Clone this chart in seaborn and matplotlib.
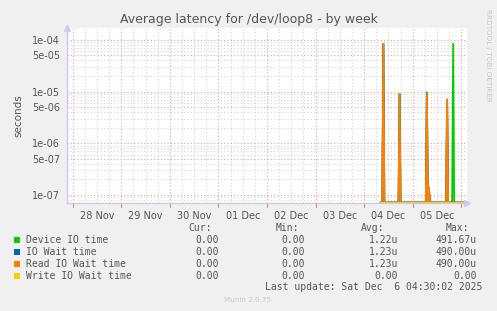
import numpy as np
import pandas as pd
import matplotlib
matplotlib.use("Agg")
import matplotlib.pyplot as plt
import matplotlib.dates as mdates
from matplotlib.patches import Rectangle
from matplotlib.ticker import FixedLocator, NullFormatter
import seaborn as sns

# ---------------- data ----------------
series_names = ["Device IO time", "IO Wait time", "Read IO Wait time", "Write IO Wait time"]
series_colors = ["#00cc00", "#0066b3", "#ff8000", "#ffcc00"]

view_start = "2025-11-27 21:10"
view_end = "2025-12-06 02:50"
data_start = "2025-12-04 08:00"
data_end = "2025-12-06 02:50"

spike_times = ["2025-12-04 09:30", "2025-12-04 17:30", "2025-12-05 07:00",
               "2025-12-05 08:00", "2025-12-05 17:00", "2025-12-05 20:00"]
device_io = [8.4e-05, 9.0e-06, 9.7e-06, 1.4e-07, 7.0e-06, 8.4e-05]
io_wait = [8.4e-05, 9.0e-06, 8.4e-06, 1.4e-07, 7.0e-06, 0.0]
read_wait = [8.4e-05, 9.0e-06, 8.4e-06, 1.4e-07, 7.0e-06, 0.0]
write_wait = [0.0, 0.0, 0.0, 0.0, 0.0, 0.0]

day_labels = ["28 Nov", "29 Nov", "30 Nov", "01 Dec", "02 Dec", "03 Dec", "04 Dec", "05 Dec"]
y_ticks = [1e-07, 5e-07, 1e-06, 5e-06, 1e-05, 5e-05, 1e-04]
y_tick_labels = ["1e-07", "5e-07", "1e-06", "5e-06", "1e-05", "5e-05", "1e-04"]

legend_cur = ["0.00", "0.00", "0.00", "0.00"]
legend_min = ["0.00", "0.00", "0.00", "0.00"]
legend_avg = ["1.22u", "1.23u", "1.23u", "0.00"]
legend_max = ["491.67u", "490.00u", "490.00u", "0.00"]

# ---------------- build table ----------------
grid_times = pd.date_range(data_start, data_end, freq="30min")
rows = []
for name, vals in zip(series_names, [device_io, io_wait, read_wait, write_wait]):
    s = pd.Series(0.0, index=grid_times)
    for t, v in zip(pd.to_datetime(spike_times), vals):
        s.loc[t] = v
    s = s.sort_index()
    for t, v in s.items():
        rows.append({"time": mdates.date2num(t), "value": v, "series": name})
df = pd.DataFrame(rows)

# ---------------- figure ----------------
sns.set_style("white")
plt.rcParams["font.family"] = ["DejaVu Sans"]
W, H = 497, 311
fig = plt.figure(figsize=(W / 100, H / 100), dpi=100, facecolor="#f0f0f0")
ax = fig.add_axes([67 / W, 1 - 203 / H, 400 / W, 175 / H])
ax.set_facecolor("white")

sns.lineplot(data=df, x="time", y="value", hue="series", hue_order=series_names,
             palette=series_colors, estimator=None, sort=False, lw=1.3,
             legend=False, ax=ax)
ylo, yhi = 7.0e-08, 1.7e-04
ax.set_yscale("log", nonpositive="clip")
ax.set_ylim(ylo, yhi)
# like rrdtool, values below the axis floor are drawn on the floor
for ln in ax.get_lines():
    ln.set_ydata(np.maximum(np.asarray(ln.get_ydata(), dtype=float), ylo * 1.02))
x0 = mdates.date2num(pd.Timestamp(view_start))
x1 = mdates.date2num(pd.Timestamp(view_end))
ax.set_xlim(x0, x1)

# y ticks / grid
ax.yaxis.set_major_locator(FixedLocator(y_ticks))
ax.set_yticklabels(y_tick_labels)
minor_y = [m * 10.0 ** e for e in range(-8, -3) for m in (2, 3, 4, 6, 7, 8, 9)]
ax.yaxis.set_minor_locator(FixedLocator(minor_y))
ax.yaxis.set_minor_formatter(NullFormatter())
ax.grid(True, which="major", axis="y", color="#e6a0a0", ls=(0, (1, 2)), lw=0.8)
ax.grid(True, which="minor", axis="y", color="#d4d4d4", ls=(0, (1, 2)), lw=0.8)

# x ticks: labels at noon, grid every 6 h, red lines at midnight
days = pd.date_range("2025-11-28", periods=len(day_labels), freq="D")
noons = [mdates.date2num(d + pd.Timedelta(hours=12)) for d in days]
ax.xaxis.set_major_locator(FixedLocator(noons))
ax.set_xticklabels(day_labels)
six_h = [mdates.date2num(t) for t in pd.date_range("2025-11-27 00:00", "2025-12-07 00:00", freq="6h")
         if t.hour in (6, 18)]
ax.xaxis.set_minor_locator(FixedLocator(six_h))
ax.xaxis.set_minor_formatter(NullFormatter())
ax.grid(True, which="major", axis="x", color="#d4d4d4", ls=(0, (1, 2)), lw=0.8)
ax.grid(True, which="minor", axis="x", color="#d4d4d4", ls=(0, (1, 2)), lw=0.8)
midnights = pd.date_range("2025-11-28", "2025-12-06", freq="D")
for d in midnights:
    xm = mdates.date2num(d)
    ax.axvline(xm, color="#e6a0a0", ls=(0, (1, 2)), lw=0.8, zorder=0.5)
    ax.plot([xm, xm], [0, -0.025], transform=ax.get_xaxis_transform(), color="#e08080",
            lw=0.8, clip_on=False)
ax.set_axisbelow(True)

ax.tick_params(axis="both", which="both", length=0, labelsize=7, labelcolor="#555555")
ax.tick_params(axis="x", pad=6)
ax.tick_params(axis="y", pad=5)
ax.set_xlabel("")
ax.set_ylabel("seconds", fontsize=7.5, color="#555555", labelpad=6)

for sp in ["top", "right"]:
    ax.spines[sp].set_visible(False)
for sp in ["left", "bottom"]:
    ax.spines[sp].set_color("#c8ccee")
    ax.spines[sp].set_linewidth(1)
# axis arrows
ax.plot([1.0], [0], marker=">", color="#c8ccee", ms=4, transform=ax.transAxes, clip_on=False)
ax.plot([0], [1.0], marker="^", color="#c8ccee", ms=4, transform=ax.transAxes, clip_on=False)

# title
fig.text(249 / W, 1 - 19 / H, "Average latency for /dev/loop8 - by week", ha="center", va="center",
         fontsize=9, color="#555555")
fig.text(488 / W, 1 - 55 / H, "RRDTOOL / TOBI OETIKER", rotation=270, ha="center", va="center",
         fontsize=5.2, color="#c8c8c8")

# legend
mono = "DejaVu Sans Mono"
fs = 7
tc = "#555555"
fig.text(212 / W, 1 - 228 / H, "Cur:", ha="right", va="center", family=mono, fontsize=fs, color=tc)
fig.text(299 / W, 1 - 228 / H, "Min:", ha="right", va="center", family=mono, fontsize=fs, color=tc)
fig.text(384 / W, 1 - 228 / H, "Avg:", ha="right", va="center", family=mono, fontsize=fs, color=tc)
fig.text(469 / W, 1 - 228 / H, "Max:", ha="right", va="center", family=mono, fontsize=fs, color=tc)
for i, name in enumerate(series_names):
    y = 1 - (240 + 12 * i) / H
    fig.patches.append(Rectangle((14 / W, y - 3 / H), 6 / W, 6 / H, transform=fig.transFigure,
                                 facecolor=series_colors[i], edgecolor="none"))
    fig.text(26 / W, y, name, ha="left", va="center", family=mono, fontsize=fs, color=tc)
    fig.text(219 / W, y, legend_cur[i], ha="right", va="center", family=mono, fontsize=fs, color=tc)
    fig.text(305 / W, y, legend_min[i], ha="right", va="center", family=mono, fontsize=fs, color=tc)
    fig.text(398 / W, y, legend_avg[i], ha="right", va="center", family=mono, fontsize=fs, color=tc)
    fig.text(477 / W, y, legend_max[i], ha="right", va="center", family=mono, fontsize=fs, color=tc)
fig.text(482 / W, 1 - 287 / H, "Last update: Sat Dec  6 04:30:02 2025", ha="right", va="center",
         family=mono, fontsize=fs, color=tc)
fig.text(248 / W, 1 - 300 / H, "Munin 2.0.75", ha="center", va="center", fontsize=5.2, color="#c8c8c8")

fig.savefig("out.png", dpi=100, facecolor=fig.get_facecolor())
